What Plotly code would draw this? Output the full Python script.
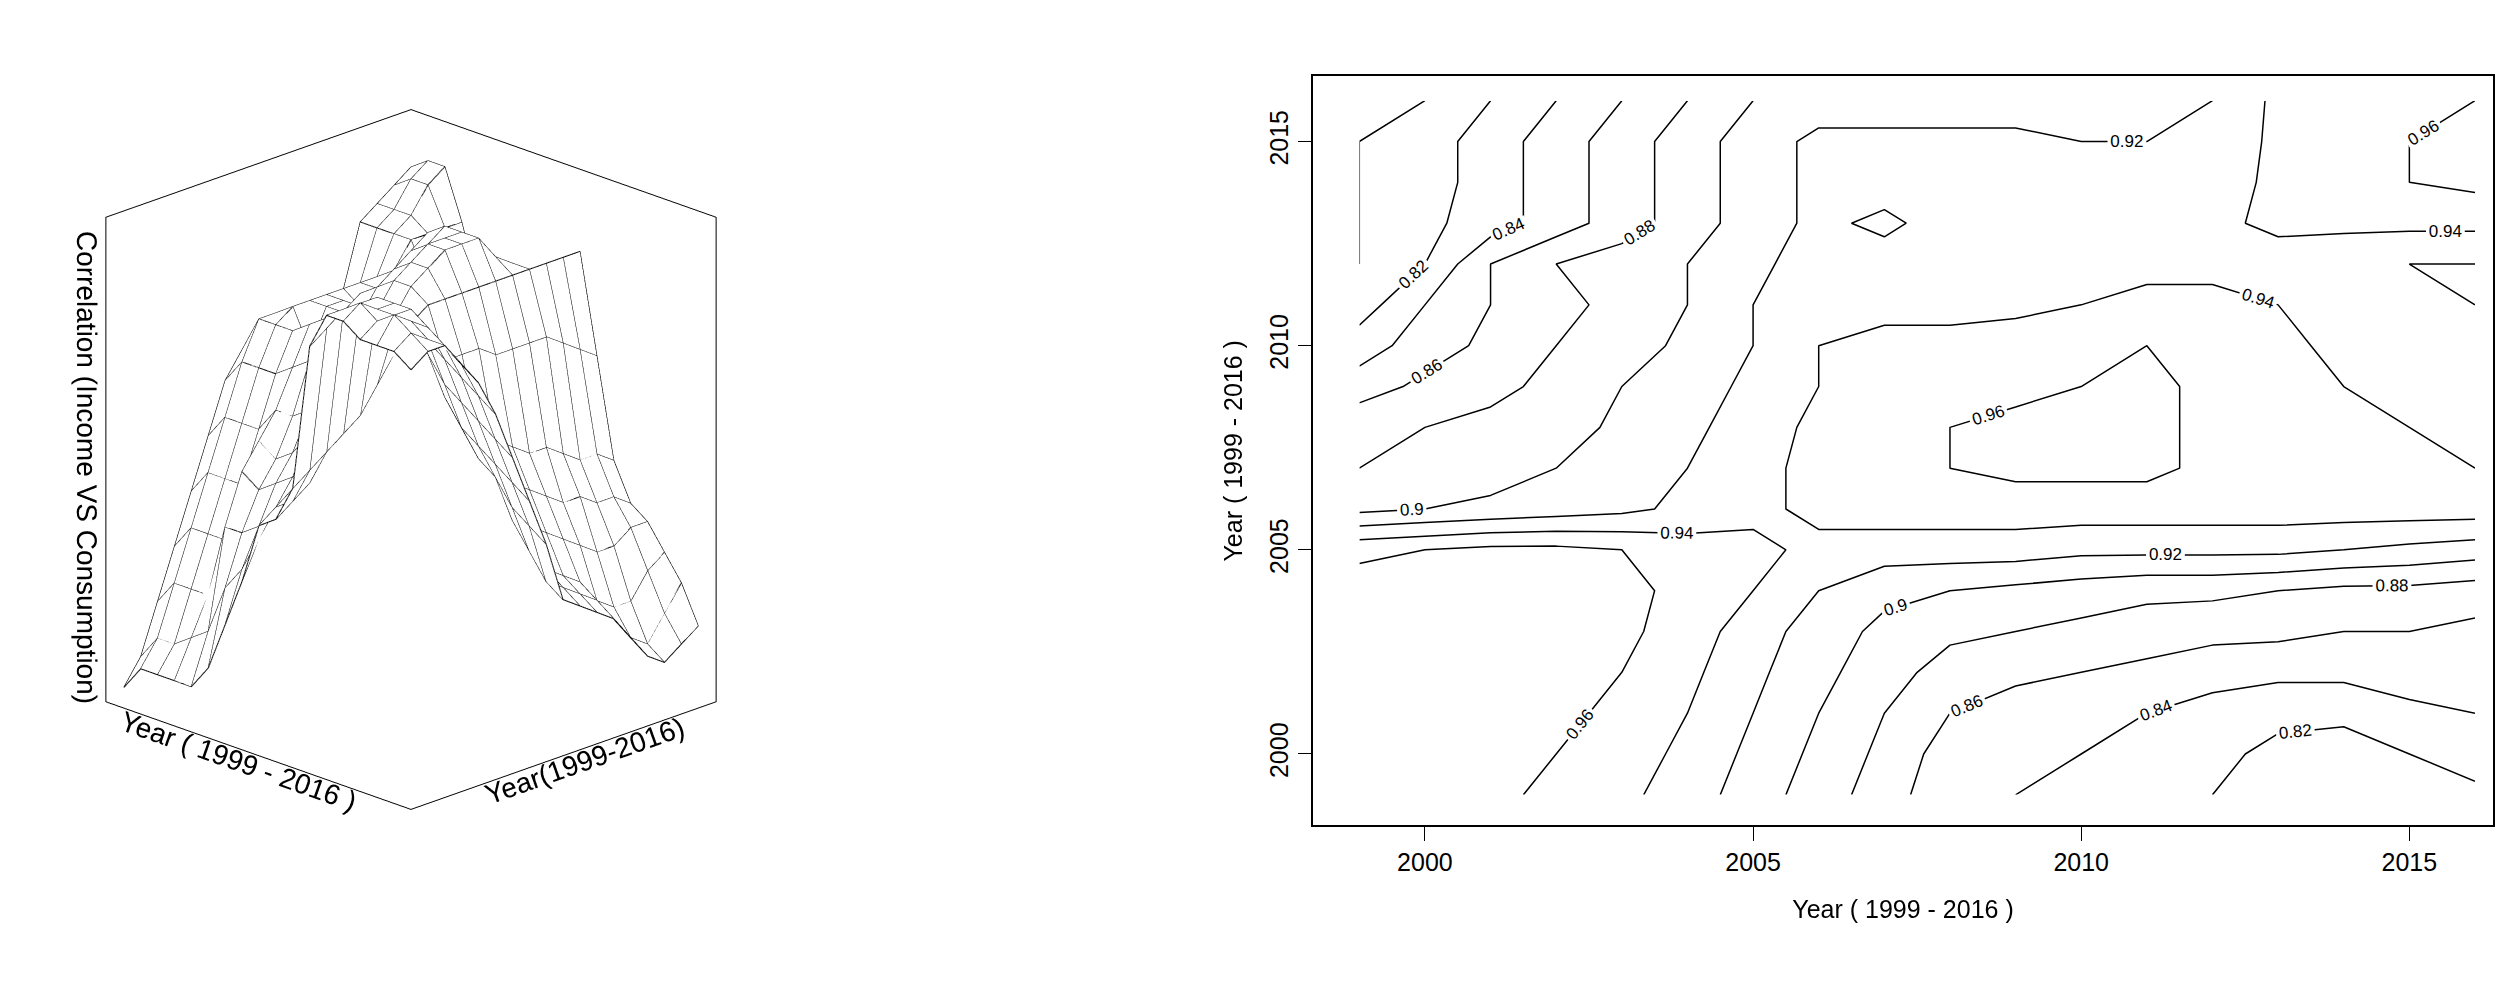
import plotly.graph_objects as go

years = list(range(1999, 2017))

# correlation grid, rows = y year 1999..2016, cols = x year 1999..2016
rows_top_down = [
    [.79, .80, .82, .84, .86, .88, .90, .91, .91, .91, .91, .91, .91, .92, .945, .95, .955, .96],
    [.80, .81, .83, .85, .87, .89, .91, .925, .925, .925, .925, .92, .92, .925, .945, .95, .96, .965],
    [.80, .81, .83, .85, .87, .89, .91, .925, .93, .93, .93, .93, .93, .93, .945, .95, .96, .965],
    [.80, .815, .83, .85, .87, .89, .91, .925, .915, .93, .93, .925, .93, .935, .945, .945, .945, .945],
    [.80, .82, .86, .88, .89, .90, .915, .93, .93, .93, .93, .93, .935, .935, .93, .925, .92, .92],
    [.81, .84, .86, .875, .885, .90, .92, .935, .935, .935, .935, .94, .945, .945, .94, .93, .925, .92],
    [.83, .85, .865, .88, .89, .905, .92, .94, .945, .945, .95, .955, .96, .955, .945, .935, .93, .925],
    [.85, .865, .875, .885, .90, .91, .925, .94, .95, .95, .955, .96, .965, .955, .945, .94, .935, .93],
    [.875, .88, .885, .89, .905, .915, .93, .945, .955, .96, .965, .965, .965, .955, .95, .945, .94, .935],
    [.88, .885, .89, .90, .91, .92, .935, .945, .955, .96, .965, .965, .965, .955, .95, .945, .945, .94],
    [.895, .90, .905, .91, .915, .925, .935, .945, .95, .95, .95, .95, .95, .95, .95, .95, .95, .95],
    [.955, .96, .965, .965, .96, .95, .945, .935, .93, .93, .93, .925, .925, .925, .925, .92, .915, .91],
    [.97, .97, .97, .97, .965, .955, .94, .92, .905, .90, .895, .89, .885, .885, .88, .875, .875, .87],
    [.97, .975, .97, .97, .965, .95, .93, .91, .895, .885, .88, .875, .87, .865, .865, .86, .86, .855],
    [.965, .97, .97, .97, .96, .945, .925, .905, .89, .87, .865, .86, .855, .85, .845, .845, .85, .85],
    [.965, .975, .97, .965, .955, .94, .92, .90, .88, .86, .85, .845, .84, .83, .825, .825, .835, .84],
    [.965, .97, .965, .96, .95, .935, .915, .895, .875, .85, .845, .84, .835, .825, .815, .81, .82, .83],
    [.96, .965, .965, .955, .945, .93, .91, .89, .87, .845, .84, .835, .83, .82, .81, .805, .81, .815],
]
corr = rows_top_down[::-1]

font = "Liberation Sans, Arial, sans-serif"
axis_title = "Year ( 1999 - 2016 )"

fig = go.Figure()

# persp-style surface: white fill plus black mesh lines
fig.add_trace(go.Surface(
    x=years, y=years, z=corr,
    colorscale=[[0, "white"], [1, "white"]], showscale=False,
    lighting=dict(ambient=1, diffuse=0, specular=0, fresnel=0),
    hoverinfo="skip", scene="scene",
))
wx, wy, wz = [], [], []
for j, yr in enumerate(years):
    for i, xr in enumerate(years):
        wx.append(xr); wy.append(yr); wz.append(corr[j][i])
    wx.append(None); wy.append(None); wz.append(None)
for i, xr in enumerate(years):
    for j, yr in enumerate(years):
        wx.append(xr); wy.append(yr); wz.append(corr[j][i])
    wx.append(None); wy.append(None); wz.append(None)
fig.add_trace(go.Scatter3d(
    x=wx, y=wy, z=wz, mode="lines", line=dict(color="black", width=2),
    hoverinfo="skip", scene="scene", connectgaps=False,
))

# contour plot
fig.add_trace(go.Contour(
    x=years, y=years, z=corr,
    contours=dict(start=0.80, end=0.96, size=0.02, coloring="lines",
                  showlabels=True, labelfont=dict(size=17, color="black", family=font)),
    colorscale=[[0, "black"], [1, "black"]], showscale=False,
    line=dict(width=1.5, smoothing=0),
    xaxis="x", yaxis="y",
))

ax3d = dict(showbackground=False, showgrid=False, zeroline=False, showticklabels=False,
            ticks="", showline=True, linecolor="black", linewidth=2, mirror=True, showspikes=False)

fig.update_layout(
    width=2520, height=1003,
    paper_bgcolor="white", plot_bgcolor="white",
    margin=dict(l=0, r=0, t=0, b=0),
    font=dict(family=font, color="black"),
    showlegend=False,
    scene=dict(
        domain=dict(x=[0.0, 0.32], y=[0.12, 0.98]),
        xaxis=dict(ax3d, title=dict(text="Year(1999-2016)", font=dict(size=28))),
        yaxis=dict(ax3d, title=dict(text=axis_title, font=dict(size=28))),
        zaxis=dict(ax3d, title=dict(text="Correlation (Income VS Consumption)", font=dict(size=28))),
        aspectmode="manual", aspectratio=dict(x=1, y=1, z=1.2),
        camera=dict(eye=dict(x=-1.5, y=-1.5, z=0.8), projection=dict(type="orthographic")),
    ),
    xaxis=dict(domain=[0.518, 0.986], range=[1998.3, 2016.27], showgrid=False, zeroline=False,
               tickvals=[2000, 2005, 2010, 2015], ticks="outside", ticklen=14, tickcolor="black",
               showline=True, linecolor="black", mirror=True, linewidth=1.5,
               tickfont=dict(size=25), title=dict(text=axis_title, font=dict(size=25), standoff=25)),
    yaxis=dict(domain=[0.185, 0.932], range=[1998.25, 2016.6], showgrid=False, zeroline=False,
               tickvals=[2000, 2005, 2010, 2015], ticks="outside", ticklen=14, tickcolor="black",
               tickangle=-90, showline=True, linecolor="black", mirror=True, linewidth=1.5,
               tickfont=dict(size=25), title=dict(text=axis_title, font=dict(size=25), standoff=15)),
)

fig.write_html("out.html")
